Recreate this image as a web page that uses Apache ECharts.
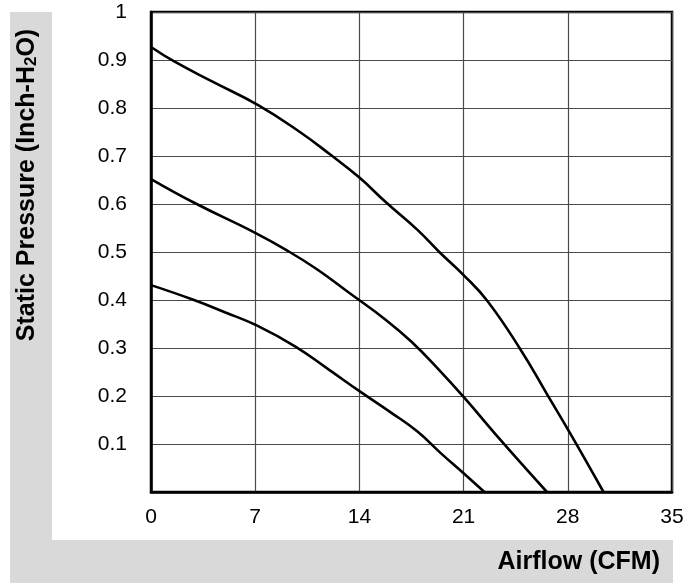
<!DOCTYPE html>
<html>
<head>
<meta charset="utf-8">
<script src="https://cdn.jsdelivr.net/npm/echarts@6/dist/echarts.min.js"></script>
<style>html,body{margin:0;padding:0;background:#fff;}#c{width:700px;height:584px;}</style>
</head>
<body>
<div id="c"></div>
<script>
const xTicks = [0, 7, 14, 21, 28, 35];
const yTicks = [0.1, 0.2, 0.3, 0.4, 0.5, 0.6, 0.7, 0.8, 0.9, 1];
const curveHigh = [[0,0.927],[1.5,0.898],[4,0.857],[7.2,0.806],[10,0.750],[12,0.704],[14,0.655],[15.8,0.603],[17.9,0.546],[19.4,0.499],[21,0.452],[22.6,0.398],[24.8,0.298],[26.6,0.204],[28.2,0.120],[30.4,0]];
const curveMid = [[0,0.652],[3,0.601],[7,0.54],[9.1,0.504],[11.1,0.465],[13.4,0.413],[15.8,0.358],[17.5,0.313],[19.3,0.256],[21,0.198],[23.8,0.097],[26.6,0]];
const curveLow = [[0,0.431],[2.8,0.401],[5,0.374],[7.1,0.347],[9.7,0.303],[11.9,0.256],[14.1,0.208],[16.1,0.166],[17.9,0.126],[19.5,0.080],[21,0.039],[22.4,0]];
const xTitle = 'Airflow (CFM)';
const FONT = 'Liberation Sans, Arial, sans-serif';

const chart = echarts.init(document.getElementById('c'), null, {renderer: 'canvas'});
const mkSeries = d => ({
  type: 'line', data: d, showSymbol: false, smooth: 0.45,
  lineStyle: {color: '#000', width: 2.6}, z: 5
});
chart.setOption({
  animation: false,
  backgroundColor: '#fff',
  graphic: [
    {type: 'rect', shape: {x: 10, y: 12, width: 42, height: 571}, style: {fill: '#d9d9d9'}, z: -10},
    {type: 'rect', shape: {x: 10, y: 540, width: 663, height: 43}, style: {fill: '#d9d9d9'}, z: -10},
    {type: 'text', x: 660, y: 562, z: 10,
     style: {text: xTitle, font: 'bold 25px ' + FONT, fill: '#000', align: 'right', verticalAlign: 'middle'}},
    {type: 'text', x: 27, y: 185, rotation: Math.PI / 2, z: 10,
     style: {
       text: '{t|Static Pressure (Inch-H}{s|2}{t|O)}',
       align: 'center', verticalAlign: 'middle',
       rich: {
         t: {font: 'bold 25px ' + FONT, fill: '#000'},
         s: {font: 'bold 17px ' + FONT, fill: '#000', verticalAlign: 'bottom', padding: [9, 0, 0, 0]}
       }
     }}
  ],
  grid: {left: 151, top: 12, width: 521, height: 480, show: true, borderColor: '#000', borderWidth: 2.5, backgroundColor: 'transparent'},
  xAxis: {
    type: 'value', min: 0, max: 35, interval: 7,
    axisLine: {show: true, lineStyle: {color: '#000', width: 2.5}},
    axisTick: {show: false},
    axisLabel: {color: '#000', fontSize: 21, fontFamily: FONT, margin: 15,
      formatter: v => xTicks.includes(v) ? String(v) : ''},
    splitLine: {show: true, lineStyle: {color: '#4a4a4a', width: 1.2}}
  },
  yAxis: {
    type: 'value', min: 0, max: 1, interval: 0.1,
    axisLine: {show: true, lineStyle: {color: '#000', width: 2.5}},
    axisTick: {show: false},
    axisLabel: {color: '#000', fontSize: 21, fontFamily: FONT, margin: 24,
      formatter: v => {
        const r = Math.round(v * 10) / 10;
        return yTicks.includes(r) ? String(r) : '';
      }},
    splitLine: {show: true, lineStyle: {color: '#4a4a4a', width: 1.2}}
  },
  series: [mkSeries(curveHigh), mkSeries(curveMid), mkSeries(curveLow)]
});
</script>
</body>
</html>
